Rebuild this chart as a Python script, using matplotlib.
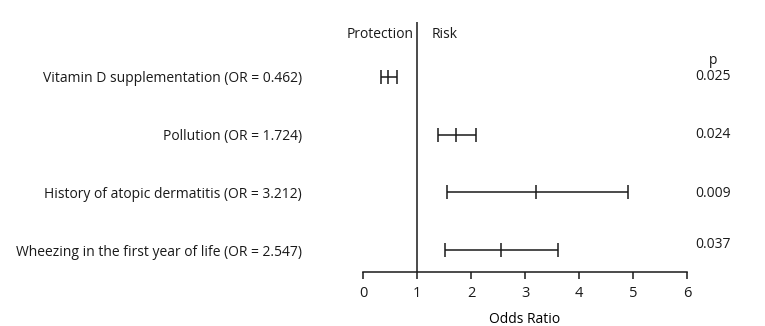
import matplotlib
matplotlib.use("Agg")
import matplotlib.pyplot as plt

# Forest plot data (top to bottom)
factors = [
    "Vitamin D supplementation (OR = 0.462)",
    "Pollution (OR = 1.724)",
    "History of atopic dermatitis (OR = 3.212)",
    "Wheezing in the first year of life (OR = 2.547)",
]
odds_ratio = [0.462, 1.724, 3.212, 2.547]
ci_low = [0.33, 1.39, 1.56, 1.51]
ci_high = [0.63, 2.10, 4.90, 3.62]
p_values = ["0.025", "0.024", "0.009", "0.037"]
xticks = [0, 1, 2, 3, 4, 5, 6]

INK = "#1a1a1a"
plt.rcParams["font.family"] = ["Open Sans", "DejaVu Sans"]
plt.rcParams["font.size"] = 10
plt.rcParams["text.color"] = INK


def main():
    fig = plt.figure(figsize=(7.65, 3.26), dpi=100)
    ax = fig.add_axes([363 / 765, 1 - 272 / 326, 324 / 765, 250 / 326])

    ypos = [4, 3, 2, 1]
    err = [[o - l for o, l in zip(odds_ratio, ci_low)],
           [h - o for o, h in zip(odds_ratio, ci_high)]]
    ax.errorbar(odds_ratio, ypos, xerr=err, fmt="|", color=INK,
                ecolor=INK, elinewidth=1.1, capsize=5, capthick=1.1,
                markersize=10, markeredgewidth=1.1)

    ax.axvline(1, color=INK, lw=1.1)

    ax.set_xlim(0, 6)
    ax.set_ylim(0.619, 4.953)
    ax.set_xticks(xticks)
    ax.set_yticks(ypos)
    ax.set_yticklabels(factors)
    ax.tick_params(axis="y", length=0, pad=44, colors=INK)
    ax.tick_params(axis="x", length=5, width=1.1, pad=5, colors=INK,
                   labelsize=10.5)
    for side in ("top", "right", "left"):
        ax.spines[side].set_visible(False)
    ax.spines["bottom"].set_color(INK)
    ax.spines["bottom"].set_linewidth(1.1)
    ax.set_xlabel("Odds Ratio", labelpad=8)

    ax.text(0.93, 4.73, "Protection", ha="right", va="center")
    ax.text(1.27, 4.73, "Risk", ha="left", va="center")

    ax.text(6.48, 4.29, "p", ha="center", va="center", clip_on=False)
    p_y = [4.0, 3.0, 1.98, 1.09]
    for y, p in zip(p_y, p_values):
        ax.text(6.48, y, p, ha="center", va="center", clip_on=False)

    fig.savefig("out.png", dpi=100)


if __name__ == "__main__":
    main()
